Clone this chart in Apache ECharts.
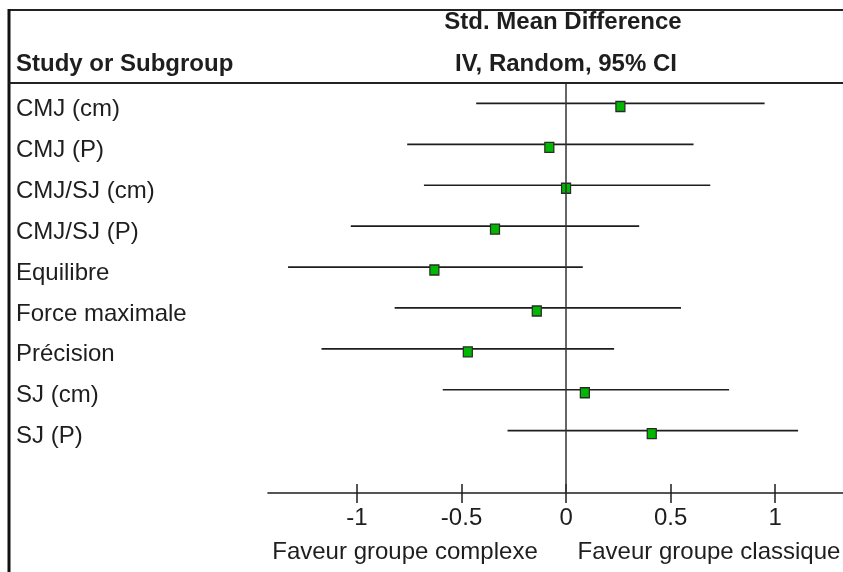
<!DOCTYPE html>
<html>
<head>
<meta charset="utf-8">
<script src="https://cdn.jsdelivr.net/npm/echarts@6/dist/echarts.min.js"></script>
<style>
  html, body { margin: 0; padding: 0; background: #fff; }
  #chart { width: 843px; height: 572px; }
</style>
</head>
<body>
<div id="chart"></div>
<script>
// Forest plot: standardised mean difference (IV, random, 95% CI) per outcome
const studies = ['CMJ (cm)', 'CMJ (P)', 'CMJ/SJ (cm)', 'CMJ/SJ (P)', 'Equilibre',
                 'Force maximale', 'Précision', 'SJ (cm)', 'SJ (P)'];
const smd    = [0.26, -0.08, 0.00, -0.34, -0.63, -0.14, -0.47, 0.09, 0.41];
const ciLow  = [-0.43, -0.76, -0.68, -1.03, -1.33, -0.82, -1.17, -0.59, -0.28];
const ciHigh = [0.95, 0.61, 0.69, 0.35, 0.08, 0.55, 0.23, 0.78, 1.11];
const tickValues = [-1, -0.5, 0, 0.5, 1];
const headerTitle = 'Std. Mean Difference';
const headerMethod = 'IV, Random, 95% CI';
const headerStudy = 'Study or Subgroup';
const favourLeft = 'Faveur groupe complexe';
const favourRight = 'Faveur groupe classique';

const FONT = '"Liberation Sans", Arial, sans-serif';
const INK = '#1e1e1e';

// one empty row below the last study, as in the usual RevMan layout
const rows = studies.concat(['']);

const chart = echarts.init(document.getElementById('chart'), null, { renderer: 'canvas' });

const xRange = { min: -1.426, max: 1.325 };

chart.setOption({
  animation: false,
  backgroundColor: '#fff',
  grid: { left: 268, right: 0, top: 84, bottom: 79, containLabel: false },
  xAxis: [
    {
      type: 'value', position: 'bottom', ...xRange,
      axisLine: { show: true, onZero: false, lineStyle: { color: INK, width: 1.6 } },
      axisTick: { show: true, inside: false, length: 10, customValues: tickValues,
                  lineStyle: { color: INK, width: 1.5 } },
      axisLabel: { show: true, customValues: tickValues, margin: 13,
                   fontFamily: FONT, fontSize: 24, color: INK,
                   formatter: v => String(v) },
      splitLine: { show: false }
    },
    {
      // upper half of the cross-shaped ticks
      type: 'value', position: 'bottom', ...xRange,
      axisLine: { show: false },
      axisTick: { show: true, inside: true, length: 9, customValues: tickValues,
                  lineStyle: { color: INK, width: 1.5 } },
      axisLabel: { show: false },
      splitLine: { show: false }
    }
  ],
  yAxis: {
    type: 'category', inverse: true, data: rows,
    axisLine: { show: false }, axisTick: { show: false }, splitLine: { show: false },
    axisLabel: {
      show: true, align: 'left', margin: 252,
      formatter: v => (v ? '{s|' + v + '}' : ''),
      rich: { s: { fontFamily: FONT, fontSize: 24, color: INK, padding: [10, 0, 0, 0] } }
    }
  },
  series: [
    {
      // confidence intervals
      type: 'custom',
      xAxisIndex: 0,
      data: studies.map((s, i) => [ciLow[i], ciHigh[i], i]),
      encode: { x: [0, 1], y: 2 },
      renderItem: (params, api) => {
        const row = api.value(2);
        const a = api.coord([api.value(0), row]);
        const b = api.coord([api.value(1), row]);
        return {
          type: 'line',
          shape: { x1: a[0], y1: a[1] - 1, x2: b[0], y2: b[1] - 1 },
          style: { stroke: INK, lineWidth: 1.7 }
        };
      },
      z: 2
    },
    {
      // point estimates
      type: 'scatter',
      xAxisIndex: 0,
      data: smd.map((v, i) => [v, i]),
      symbol: 'rect',
      symbolSize: [9, 10],
      symbolOffset: [0, 2],
      itemStyle: { color: '#00b800', borderColor: '#2a2a2a', borderWidth: 1.3, opacity: 1 },
      z: 4,
      markLine: {
        silent: true, symbol: 'none', label: { show: false },
        lineStyle: { color: '#333', width: 1.5, type: 'solid' },
        data: [{ xAxis: 0 }]
      }
    }
  ],
  graphic: [
    // frame: top rule, left rule, header rule
    { type: 'line', shape: { x1: 8, y1: 10, x2: 843, y2: 10 },
      style: { stroke: '#222', lineWidth: 2 }, z: 10 },
    { type: 'line', shape: { x1: 9, y1: 9, x2: 9, y2: 572 },
      style: { stroke: '#111', lineWidth: 3 }, z: 10 },
    { type: 'line', shape: { x1: 9, y1: 83, x2: 843, y2: 83 },
      style: { stroke: '#222', lineWidth: 2 }, z: 10 },
    { type: 'text', x: 563, y: 22,
      style: { text: headerTitle, fontFamily: FONT, fontWeight: 'bold', fontSize: 24,
               fill: INK, align: 'center', verticalAlign: 'middle' } },
    { type: 'text', x: 566, y: 64,
      style: { text: headerMethod, fontFamily: FONT, fontWeight: 'bold', fontSize: 24,
               fill: INK, align: 'center', verticalAlign: 'middle' } },
    { type: 'text', x: 16, y: 64,
      style: { text: headerStudy, fontFamily: FONT, fontWeight: 'bold', fontSize: 24,
               fill: INK, align: 'left', verticalAlign: 'middle' } },
    { type: 'text', x: 405, y: 552,
      style: { text: favourLeft, fontFamily: FONT, fontSize: 24,
               fill: INK, align: 'center', verticalAlign: 'middle' } },
    { type: 'text', x: 709, y: 552,
      style: { text: favourRight, fontFamily: FONT, fontSize: 24,
               fill: INK, align: 'center', verticalAlign: 'middle' } }
  ]
});
</script>
</body>
</html>
